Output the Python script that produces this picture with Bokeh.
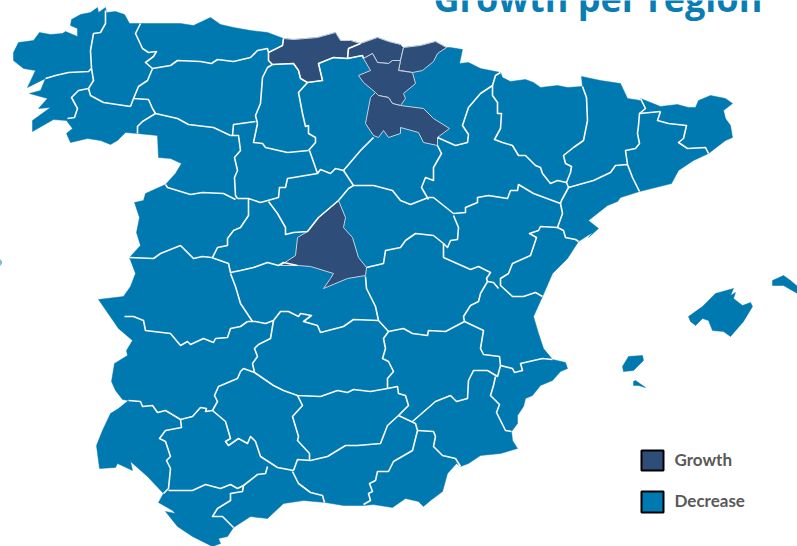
from bokeh.plotting import figure
from bokeh.models import Range1d
from bokeh.core.properties import value
from bokeh.embed import file_html
from bokeh.resources import INLINE

BLUE = "#0078B0"
DARK = "#2E4D78"

title_text = "Growth per region"
legend_labels = ["Growth", "Decrease"]
legend_colors = [DARK, BLUE]

mainland = [(13,52),(18,42),(33,40),(39,32),(50,34),(62,33),(65,31),(77,36),(77,28),(70,25),(71,19),(80,14),(90,12),(97,7),(98,12),(105,7),(106,12),(115,11),(124,14),(129,23),(140,23),(158,23),(180,23),(193,25),(210,17),(220,24),(233,27),(250,30),(267,32),(283,38),(293,39),(317,37),(335,32),(340,40),(350,40),(360,43),(377,37),(388,41),(400,44),(403,47),(420,45),(435,41),(446,47),(450,47),(462,49),(459,63),(468,62),(480,68),(500,72),(502,77),(510,81),(525,79),(533,82),(540,87),(557,85),(567,87),(582,86),(581,76),(600,80),(620,83),(627,98),(640,100),(640,98),(660,106),(677,104),(688,107),(695,107),(698,100),(710,95),(725,98),(732,103),(723,110),(725,118),(730,125),(732,137),(725,140),(708,153),(693,160),(678,170),(671,183),(639,191),(620,197),(617,201),(607,205),(588,220),(598,228),(588,237),(592,232),(578,241),(567,258),(552,273),(542,296),(533,316),(538,333),(543,348),(552,359),(565,362),(567,368),(560,371),(552,380),(540,385),(532,395),(525,398),(523,406),(517,415),(517,423),(511,431),(512,440),(517,448),(500,453),(480,455),(468,463),(460,466),(456,463),(447,473),(442,491),(430,500),(423,506),(418,501),(405,498),(392,507),(373,504),(363,505),(343,505),(325,502),(303,500),(283,503),(267,518),(250,516),(233,527),(227,536),(218,538),(220,543),(212,546),(192,536),(177,526),(165,511),(175,513),(172,510),(158,502),(163,493),(147,476),(130,461),(132,470),(117,463),(115,467),(99,468),(96,445),(102,430),(110,413),(118,408),(128,400),(122,399),(115,390),(111,381),(114,363),(127,355),(126,350),(132,340),(118,328),(98,299),(123,296),(130,286),(135,273),(129,257),(140,245),(136,232),(139,217),(134,202),(143,200),(145,193),(165,184),(175,173),(181,163),(170,158),(158,157),(157,135),(137,133),(125,132),(117,140),(110,144),(100,140),(87,138),(70,142),(66,133),(72,128),(66,120),(53,119),(32,131),(32,120),(50,107),(38,108),(47,98),(29,93),(40,90),(45,78),(27,87),(35,70),(23,68),(13,60)]

mallorca = [(688,316),(702,306),(715,293),(733,288),(730,295),(735,292),(733,298),(742,305),(750,302),(752,306),(743,321),(730,336),(723,331),(712,330),(708,320),(702,318),(695,325),(690,321)]
menorca = [(772,280),(783,275),(790,280),(797,286),(797,293),(783,285),(772,285)]
ibiza = [(622,366),(628,356),(642,355),(643,360),(633,370),(623,371)]
formentera = [(633,381),(635,380),(645,387),(638,385),(633,385)]
edge_speck = [(0,259),(1,262),(0,265)]

cantabria = [(283,38),(293,39),(317,37),(335,32),(340,40),(350,40),(360,43),(348,48),(347,58),(333,57),(318,63),(322,80),(307,82),(300,78),(298,70),(293,63),(272,64),(268,60),(268,52),(282,45)]
bizkaia = [(360,43),(377,37),(388,41),(400,44),(403,47),(400,60),(392,60),(388,63),(377,62),(372,53),(363,58),(362,55),(347,58),(348,48)]
gipuzkoa = [(403,47),(420,45),(435,41),(446,47),(437,53),(433,61),(422,70),(412,72),(400,70),(398,70),(400,60)]
alava = [(363,58),(372,53),(377,62),(388,63),(392,60),(400,60),(398,70),(412,72),(415,83),(403,93),(405,98),(400,105),(392,103),(388,97),(378,95),(375,92),(363,82),(358,75),(370,70)]
rioja = [(370,97),(375,92),(378,95),(388,97),(392,103),(400,105),(423,108),(433,118),(449,128),(437,137),(437,145),(423,142),(418,132),(400,127),(400,133),(388,137),(383,130),(378,137),(373,135),(365,123)]
madrid = [(338,200),(345,217),(343,227),(352,237),(358,257),(366,267),(365,275),(347,278),(323,288),(330,278),(333,273),(310,266),(297,265),(280,265),(295,255),(297,237),(307,231),(318,217)]

borders = [
 [(105,10),(105,23),(100,32),(93,33),(90,50),(91,68),(93,80),(88,88)],
 [(45,78),(55,75),(68,72),(88,71),(91,68)],
 [(88,88),(78,90),(71,97),(77,108),(74,117),(67,118)],
 [(88,88),(90,95),(103,102),(130,106)],
 [(140,23),(135,33),(142,48),(148,52),(156,51),(153,56),(145,62),(152,68),(147,80),(138,86),(133,98),(130,106)],
 [(152,68),(170,65),(177,60),(200,61),(211,63),(217,59),(233,61),(250,57),(257,50),(267,48),(268,52)],
 [(283,38),(282,45),(268,52),(268,60),(272,64)],
 [(133,98),(148,99),(152,108),(155,113)],
 [(155,113),(142,121),(137,126),(137,133)],
 [(155,113),(177,118),(188,124),(213,127),(230,135)],
 [(272,64),(267,67),(262,77),(260,103),(255,115),(257,123)],
 [(255,121),(233,124),(232,135)],
 [(272,64),(293,63),(298,70),(300,78),(307,82)],
 [(307,82),(322,80),(318,63),(333,57),(347,58)],
 [(360,43),(348,48),(347,58),(362,55),(363,58)],
 [(307,82),(298,92),(302,113),(305,126),(308,125),(308,133),(315,137),(315,142),(308,150)],
 [(257,123),(253,142),(262,143),(265,147),(287,152),(308,150)],
 [(230,135),(238,135),(240,150),(234,157),(237,170),(234,177),(235,195),(237,198)],
 [(165,184),(167,187),(190,194),(202,192),(223,193),(235,199)],
 [(237,198),(248,198),(260,202),(278,197),(279,187),(285,187),(287,178),(317,173),(309,150)],
 [(317,173),(320,169),(330,173),(335,168),(343,170)],
 [(343,170),(360,150),(373,137)],
 [(343,170),(353,185)],
 [(353,185),(348,188),(338,200)],
 [(338,200),(318,217),(307,231),(293,232),(285,234),(285,227),(277,213),(268,201)],
 [(248,198),(248,215),(240,227),(233,230),(227,238),(227,245),(217,247),(212,257)],
 [(129,257),(153,258),(160,253),(180,245),(193,258),(202,256),(211,257)],
 [(211,257),(228,263),(230,272),(240,270),(253,267),(267,262),(278,265),(283,262),(297,265)],
 [(437,137),(455,145),(467,142),(468,134),(462,125),(468,107),(480,93),(492,85),(495,75),(500,72)],
 [(437,145),(441,153),(433,167),(433,180),(425,177),(421,187),(428,199)],
 [(353,185),(373,185),(392,190),(400,200),(410,204),(428,197)],
 [(428,197),(433,197),(453,213),(465,212),(465,207),(477,202),(477,197),(488,195),(507,198),(510,190),(517,190),(518,184),(533,193),(560,203)],
 [(453,215),(458,227),(457,239),(450,240),(447,247),(443,243)],
 [(366,267),(383,263),(385,250),(400,247),(405,240),(415,233),(433,235),(443,243)],
 [(443,243),(443,257),(470,269),(478,266),(490,272),(486,278),(487,281)],
 [(560,203),(562,213),(557,227),(540,226),(538,230),(529,233),(536,237),(530,255),(512,263),(508,273),(500,278),(500,285),(512,296),(523,296),(535,292),(542,296)],
 [(557,227),(563,230),(565,237),(575,239),(578,241)],
 [(487,281),(493,282),(498,288)],
 [(487,281),(480,293),(478,301),(470,305),(463,316),(464,321)],
 [(464,321),(483,330),(480,348),(483,354),(499,356),(500,365),(512,368),(514,372),(522,370),(520,363),(542,358),(552,359)],
 [(500,365),(497,376),(487,370),(473,370),(468,380),(467,398),(456,401),(450,395),(435,401),(412,421)],
 [(495,376),(493,385),(490,395),(499,404),(496,412),(505,430),(511,431)],
 [(464,321),(445,331),(428,330),(427,335),(412,333),(403,328),(388,331)],
 [(388,331),(378,320),(375,306),(366,288),(365,276)],
 [(378,320),(353,319),(343,326),(320,332),(317,325),(303,321),(311,315),(300,313),(298,316),(288,311),(280,311),(273,320),(265,323),(255,321),(247,321)],
 [(230,273),(235,286),(240,303),(252,321)],
 [(124,316),(133,316),(143,320),(145,330),(170,333),(180,345),(187,341),(190,344),(203,338),(213,342),(215,338),(227,337),(230,328),(240,326),(247,321)],
 [(273,320),(270,338),(258,344),(254,348),(257,356),(252,363),(254,372)],
 [(254,372),(243,368),(240,371),(237,378),(218,386),(214,395),(217,401),(212,410)],
 [(128,400),(140,401),(142,406),(152,405),(157,412),(165,410),(180,419),(192,416),(200,407),(206,408),(205,411),(212,410)],
 [(180,419),(181,427),(165,430),(159,438),(165,441),(170,456),(166,460),(170,468),(168,488),(163,493)],
 [(212,410),(225,421),(230,438),(225,441),(228,445),(238,438),(247,443),(250,436),(255,441),(260,456),(277,467),(293,470)],
 [(254,372),(273,385),(283,390),(297,395),(320,396),(337,390),(347,392),(353,389),(370,391),(387,388)],
 [(388,331),(383,338),(385,348),(382,358),(388,361),(393,371),(387,378),(387,388)],
 [(387,388),(397,386),(398,393),(405,395),(408,405),(398,415)],
 [(398,415),(387,425),(380,443),(357,445),(345,445),(327,456),(310,460),(297,459),(293,470)],
 [(297,395),(302,405),(292,416),(298,436),(297,440),(309,453),(309,460)],
 [(292,471),(298,483),(310,492),(322,495),(324,502)],
 [(267,466),(265,473),(257,474),(243,485)],
 [(168,490),(192,490),(205,484),(220,488),(230,484),(237,488),(243,485),(242,491),(230,493),(230,500),(217,508),(212,516),(222,516),(233,527)],
 [(398,415),(415,423),(417,430),(412,450),(393,461),(388,471),(377,471),(375,480),(369,483),(372,491),(368,493),(370,500),(363,504)],
 [(417,430),(433,431),(435,436),(433,446),(442,455),(455,458),(460,466)],
 [(492,85),(492,95),(497,102),(497,113),(501,113),(500,128),(494,139),(502,142),(512,145),(518,155),(525,155),(535,165),(540,167),(542,173),(550,183),(557,180),(566,182)],
 [(582,86),(586,97),(587,120),(583,140),(573,147),(563,155),(565,163),(571,166),(570,172),(566,182),(568,187),(561,200),(560,203)],
 [(568,187),(593,180),(610,172),(615,165),(627,164),(632,177),(639,191)],
 [(627,164),(625,150),(635,148),(639,143),(637,133),(638,125),(639,113),(660,111)],
 [(640,98),(645,108),(639,113)],
 [(660,111),(657,120),(668,123),(686,125),(683,138),(678,142),(687,148),(705,147),(708,153)],
]

islands = [mallorca, menorca, ibiza, formentera, edge_speck]
growth_regions = [cantabria, bizkaia, gipuzkoa, alava, rioja, madrid]

def xs(rings):
    return [[pt[0] for pt in r] for r in rings]

def ys(rings):
    return [[pt[1] for pt in r] for r in rings]

p = figure(width=797, height=546, output_backend="svg", toolbar_location=None,
           x_range=Range1d(0, 797), y_range=Range1d(546, 0),
           min_border=0, outline_line_color=None)
p.axis.visible = False
p.grid.visible = False

land = [mainland] + islands
p.patches(xs(land), ys(land), fill_color=BLUE, line_color=BLUE, line_width=0.5)
p.patches(xs(growth_regions), ys(growth_regions), fill_color=DARK, line_color="#C9D3E0", line_width=1.0)
p.multi_line(xs(borders), ys(borders), line_color="white", line_width=1.6, line_join="round")

p.text([433], [-2], text=[title_text], text_color="#0A7DB5", text_font=value("Open Sans"),
       text_font_style="bold", text_font_size="36px", text_baseline="alphabetic")

key_left, key_right = 641, 663
key_tops, key_bottoms = [450, 491], [470, 512]
p.quad(left=[key_left]*2, right=[key_right]*2, top=key_tops, bottom=key_bottoms,
       fill_color=legend_colors, line_color="black", line_width=2)
p.text([674, 674], [459, 500], text=legend_labels, text_color="#595959", text_font=value("Lato"),
       text_font_style="bold", text_font_size="17px", text_baseline="middle")

open("out.html", "w").write(file_html(p, INLINE))
